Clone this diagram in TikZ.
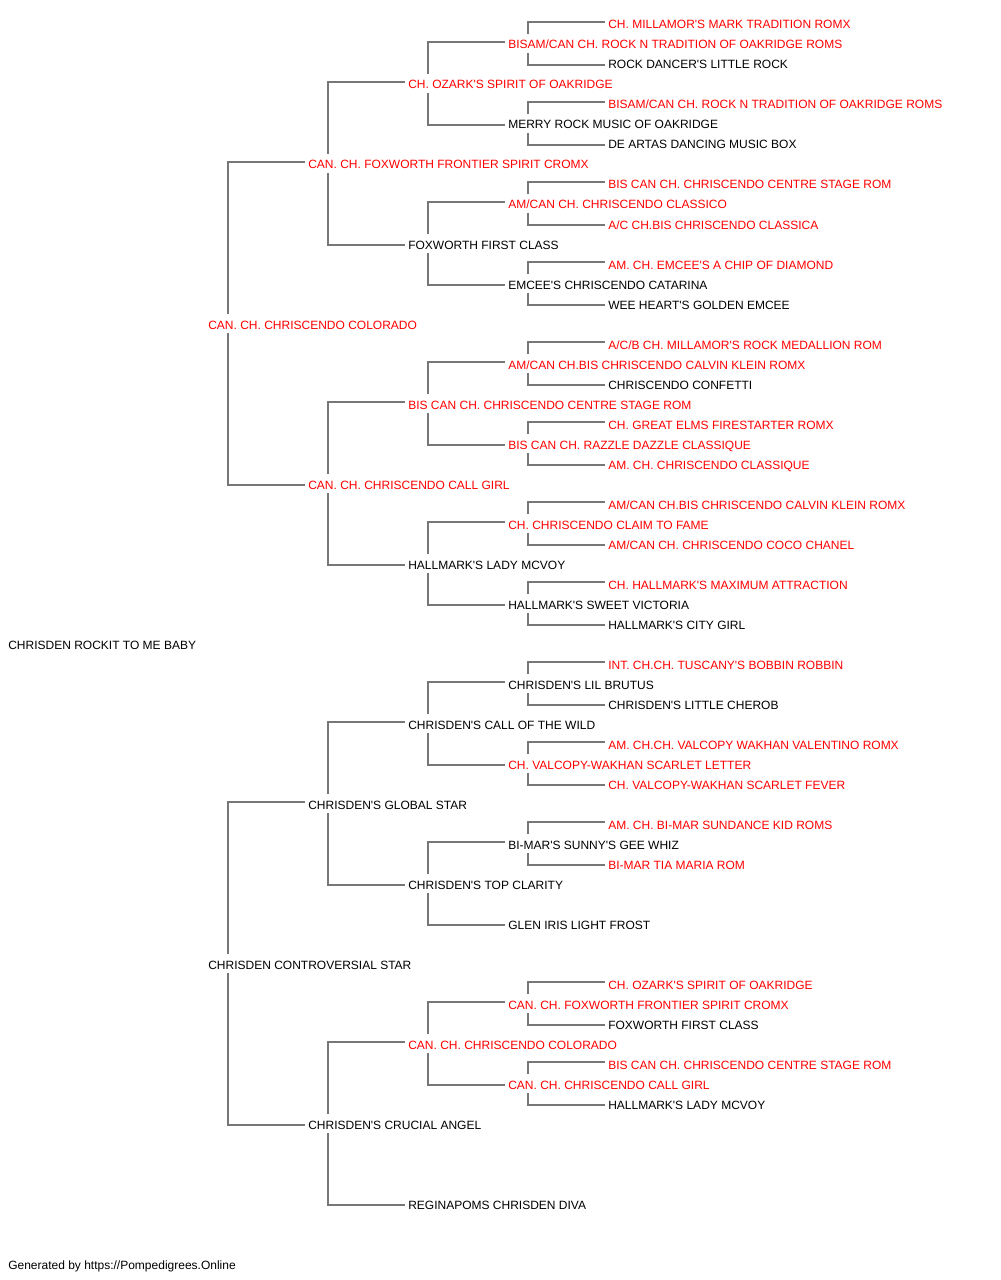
\documentclass[tikz,border=0pt]{standalone}
\usepackage{fontspec}
\setmainfont{Liberation Sans}[Ligatures=TeXOff]

\definecolor{linkgray}{HTML}{777777}

\tikzset{
  dog/.style={anchor=base west, inner sep=0pt, text height=11.25pt, text depth=3pt, font=\fontsize{9}{11}\selectfont},
  champ/.style={dog, text=red},
  link/.style={draw=linkgray, line width=1pt}
}

\begin{document}
\begin{tikzpicture}[x=0.75pt,y=-0.75pt]

% page frame
\useasboundingbox (0,0) rectangle (1000,1280);

% the dog
\node[dog] (x) at (8,649) {CHRISDEN ROCKIT TO ME BABY};

% parents
\node[champ] (s) at (208,329) {CAN. CH. CHRISCENDO COLORADO};
\node[dog]   (d) at (208,969) {CHRISDEN CONTROVERSIAL STAR};

% grandparents
\node[champ] (ss) at (308,169)  {CAN. CH. FOXWORTH FRONTIER SPIRIT CROMX};
\node[champ] (sd) at (308,489)  {CAN. CH. CHRISCENDO CALL GIRL};
\node[dog]   (ds) at (308,809)  {CHRISDEN'S GLOBAL STAR};
\node[dog]   (dd) at (308,1129) {CHRISDEN'S CRUCIAL ANGEL};

% great-grandparents
\node[champ] (sss) at (408,89)   {CH. OZARK'S SPIRIT OF OAKRIDGE};
\node[dog]   (ssd) at (408,249)  {FOXWORTH FIRST CLASS};
\node[champ] (sds) at (408,409)  {BIS CAN CH. CHRISCENDO CENTRE STAGE ROM};
\node[dog]   (sdd) at (408,569)  {HALLMARK'S LADY MCVOY};
\node[dog]   (dss) at (408,729)  {CHRISDEN'S CALL OF THE WILD};
\node[dog]   (dsd) at (408,889)  {CHRISDEN'S TOP CLARITY};
\node[champ] (dds) at (408,1049) {CAN. CH. CHRISCENDO COLORADO};
\node[dog]   (ddd) at (408,1209) {REGINAPOMS CHRISDEN DIVA};

% 4th generation
\node[champ] (ssss) at (508,49)   {BISAM/CAN CH. ROCK N TRADITION OF OAKRIDGE ROMS};
\node[dog]   (sssd) at (508,129)  {MERRY ROCK MUSIC OF OAKRIDGE};
\node[champ] (ssds) at (508,209)  {AM/CAN CH. CHRISCENDO CLASSICO};
\node[dog]   (ssdd) at (508,289)  {EMCEE'S CHRISCENDO CATARINA};
\node[champ] (sdss) at (508,369)  {AM/CAN CH.BIS CHRISCENDO CALVIN KLEIN ROMX};
\node[champ] (sdsd) at (508,449)  {BIS CAN CH. RAZZLE DAZZLE CLASSIQUE};
\node[champ] (sdds) at (508,529)  {CH. CHRISCENDO CLAIM TO FAME};
\node[dog]   (sddd) at (508,609)  {HALLMARK'S SWEET VICTORIA};
\node[dog]   (dsss) at (508,689)  {CHRISDEN'S LIL BRUTUS};
\node[champ] (dssd) at (508,769)  {CH. VALCOPY-WAKHAN SCARLET LETTER};
\node[dog]   (dsds) at (508,849)  {BI-MAR'S SUNNY'S GEE WHIZ};
\node[dog]   (dsdd) at (508,929)  {GLEN IRIS LIGHT FROST};
\node[champ] (ddss) at (508,1009) {CAN. CH. FOXWORTH FRONTIER SPIRIT CROMX};
\node[champ] (ddsd) at (508,1089) {CAN. CH. CHRISCENDO CALL GIRL};

% 5th generation
\node[champ] (sssss) at (608,29)   {CH. MILLAMOR'S MARK TRADITION ROMX};
\node[dog]   (ssssd) at (608,69)   {ROCK DANCER'S LITTLE ROCK};
\node[champ] (sssds) at (608,109)  {BISAM/CAN CH. ROCK N TRADITION OF OAKRIDGE ROMS};
\node[dog]   (sssdd) at (608,149)  {DE ARTAS DANCING MUSIC BOX};
\node[champ] (ssdss) at (608,189)  {BIS CAN CH. CHRISCENDO CENTRE STAGE ROM};
\node[champ] (ssdsd) at (608,229)  {A/C CH.BIS CHRISCENDO CLASSICA};
\node[champ] (ssdds) at (608,269)  {AM. CH. EMCEE'S A CHIP OF DIAMOND};
\node[dog]   (ssddd) at (608,309)  {WEE HEART'S GOLDEN EMCEE};
\node[champ] (sdsss) at (608,349)  {A/C/B CH. MILLAMOR'S ROCK MEDALLION ROM};
\node[dog]   (sdssd) at (608,389)  {CHRISCENDO CONFETTI};
\node[champ] (sdsds) at (608,429)  {CH. GREAT ELMS FIRESTARTER ROMX};
\node[champ] (sdsdd) at (608,469)  {AM. CH. CHRISCENDO CLASSIQUE};
\node[champ] (sddss) at (608,509)  {AM/CAN CH.BIS CHRISCENDO CALVIN KLEIN ROMX};
\node[champ] (sddsd) at (608,549)  {AM/CAN CH. CHRISCENDO COCO CHANEL};
\node[champ] (sddds) at (608,589)  {CH. HALLMARK'S MAXIMUM ATTRACTION};
\node[dog]   (sdddd) at (608,629)  {HALLMARK'S CITY GIRL};
\node[champ] (dssss) at (608,669)  {INT. CH.CH. TUSCANY'S BOBBIN ROBBIN};
\node[dog]   (dsssd) at (608,709)  {CHRISDEN'S LITTLE CHEROB};
\node[champ] (dssds) at (608,749)  {AM. CH.CH. VALCOPY WAKHAN VALENTINO ROMX};
\node[champ] (dssdd) at (608,789)  {CH. VALCOPY-WAKHAN SCARLET FEVER};
\node[champ] (dsdss) at (608,829)  {AM. CH. BI-MAR SUNDANCE KID ROMS};
\node[champ] (dsdsd) at (608,869)  {BI-MAR TIA MARIA ROM};
\node[champ] (ddsss) at (608,989)  {CH. OZARK'S SPIRIT OF OAKRIDGE};
\node[dog]   (ddssd) at (608,1029) {FOXWORTH FIRST CLASS};
\node[champ] (ddsds) at (608,1069) {BIS CAN CH. CHRISCENDO CENTRE STAGE ROM};
\node[dog]   (ddsdd) at (608,1109) {HALLMARK'S LADY MCVOY};

% sire and dam brackets
\foreach \kid in {s,d,ss,sd,ds,dd,sss,ssd,sds,sdd,dss,dsd,dds,ssss,sssd,ssds,ssdd,sdss,sdsd,sdds,sddd,dsss,dssd,dsds,ddss,ddsd}{
  \draw[link] ([xshift=-2.25pt,yshift=5.25pt]\kid s.base west) -| ([xshift=15pt]\kid.north west);
  \draw[link] ([xshift=15pt]\kid.south west) |- ([xshift=-2.25pt,yshift=3pt]\kid d.base west);
}

% footer
\node[dog] (note) at (8,1269) {Generated by https://Pompedigrees.Online};

\end{tikzpicture}
\end{document}
